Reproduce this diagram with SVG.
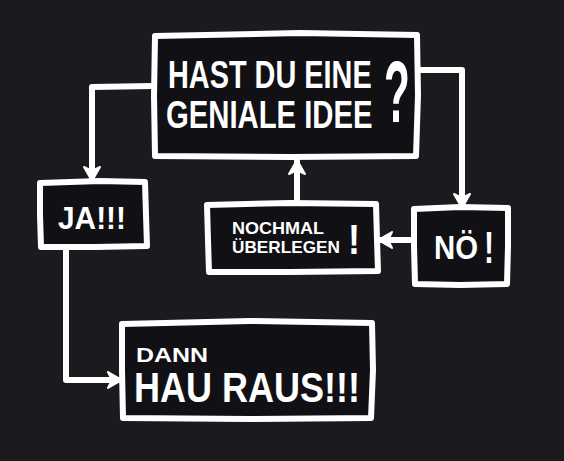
<svg xmlns="http://www.w3.org/2000/svg" width="564" height="461" viewBox="0 0 564 461">
<defs>
<style>
.box{fill:#111014;stroke:#ffffff;stroke-width:6;stroke-linejoin:round;stroke-linecap:round}
.con{fill:none;stroke:#ffffff;stroke-width:6;stroke-linejoin:round;stroke-linecap:round}
.t{font-family:"Liberation Sans",Arial,sans-serif;font-weight:bold;fill:#ffffff}
</style>
<marker id="ah" viewBox="0 0 16 18" refX="14" refY="9" markerWidth="16" markerHeight="18" markerUnits="userSpaceOnUse" orient="auto">
<path d="M1,1 L15,9 L1,17 L5,9 z" fill="#ffffff" stroke="#ffffff" stroke-width="2" stroke-linejoin="round"/>
</marker>
</defs>
<rect width="564" height="461" fill="#1b1a1f"/>
<g id="connectors">
<path class="con" d="M153,86 L92,87 L92,180" marker-end="url(#ah)"/>
<path class="con" d="M66,247 L66,380 L121,380" marker-end="url(#ah)"/>
<path class="con" d="M418,70 L462,70 L462,207" marker-end="url(#ah)"/>
<path class="con" d="M413,240 L379,240" marker-end="url(#ah)"/>
<path class="con" d="M297,203 L297,161" marker-end="url(#ah)"/>
</g>
<g id="frage">
<path class="box" d="M155,36 L300,33 L417,35 L418,95 L416,156 L290,157 L155,156 L154,96 Z"/>
<text class="t" transform="translate(168,88) scale(0.76,1)" x="0" y="0" font-size="38">HAST DU EINE</text>
<text class="t" transform="translate(166,128) scale(0.77,1)" x="0" y="0" font-size="38">GENIALE IDEE</text>
<text class="t" transform="translate(384,122) scale(0.48,1)" x="0" y="0" font-size="88">?</text>
</g>
<g id="ja">
<path class="box" d="M40,183 L100,181 L145,182 L146,215 L147,246 L95,247 L41,247 L40,215 Z"/>
<text class="t" x="58" y="229" font-size="32" textLength="68" lengthAdjust="spacingAndGlyphs">JA!!!</text>
</g>
<g id="nochmal">
<path class="box" d="M207,205 L290,203 L376,204 L377,240 L378,271 L290,272 L209,272 L208,240 Z"/>
<text class="t" x="232" y="234" font-size="17" textLength="92" lengthAdjust="spacingAndGlyphs">NOCHMAL</text>
<text class="t" x="232" y="253" font-size="17" textLength="108" lengthAdjust="spacingAndGlyphs">ÜBERLEGEN</text>
<text class="t" x="348" y="254" font-size="42" textLength="12" lengthAdjust="spacingAndGlyphs">!</text>
</g>
<g id="noe">
<path class="box" d="M414,209 L460,207 L508,208 L508,246 L507,284 L460,285 L415,284 L414,246 Z"/>
<text class="t" x="434" y="259" font-size="34" textLength="44" lengthAdjust="spacingAndGlyphs">NÖ</text>
<text class="t" x="484" y="263" font-size="44" textLength="10" lengthAdjust="spacingAndGlyphs">!</text>
</g>
<g id="raus">
<path class="box" d="M122,324 L250,321 L372,323 L373,370 L371,418 L250,419 L123,418 L122,370 Z"/>
<text class="t" x="136" y="362" font-size="21" textLength="72" lengthAdjust="spacingAndGlyphs">DANN</text>
<text class="t" x="134" y="402" font-size="42" textLength="226" lengthAdjust="spacingAndGlyphs">HAU RAUS!!!</text>
</g>
</svg>
